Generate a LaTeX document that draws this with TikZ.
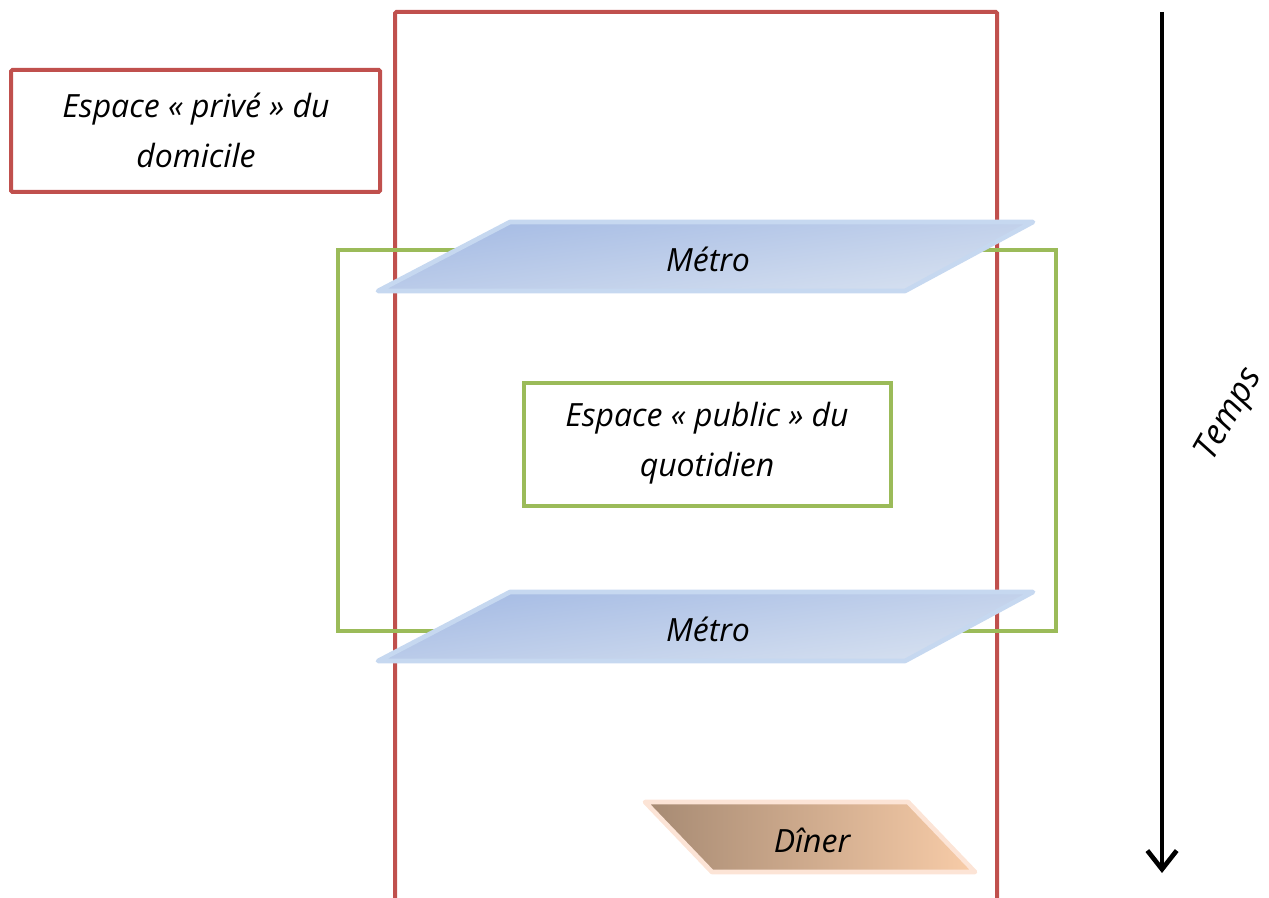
\documentclass[tikz,border=0pt]{standalone}
\usepackage{fontspec}
\setmainfont{Open Sans}
\usetikzlibrary{arrows.meta}
\definecolor{redb}{HTML}{C0504D}
\definecolor{greenb}{HTML}{9BBB59}
\definecolor{metroA}{HTML}{A5BBE4}
\definecolor{metroB}{HTML}{D7E1F0}
\definecolor{metroE}{HTML}{C6D8F0}
\definecolor{dinA}{HTML}{A68A73}
\definecolor{dinB}{HTML}{F8CCA8}
\definecolor{dinE}{HTML}{FCE4D6}
\tikzset{
  redbox/.style={draw=redb, line width=3pt, rounded corners=1pt},
  greenbox/.style={draw=greenb, line width=3pt},
  lbl/.style={font=\itshape\fontsize{24}{37.5}\selectfont, align=center, text=black, inner sep=0pt},
  metroshape/.style={draw=metroE, line width=3.5pt, line join=round, shading=axis, top color=metroA, bottom color=metroB, shading angle=8},
  dinshape/.style={draw=dinE, line width=3.5pt, line join=round, shading=axis, left color=dinA, right color=dinB},
}
\begin{document}
\begin{tikzpicture}[x=0.75pt,y=-0.75pt]
\useasboundingbox (0,0) rectangle (1269,898);
% private space frame
\draw[redbox] (395,905) -- (395,12) -- (997,12) -- (997,905);
\node[redbox, minimum width=369*0.75pt, minimum height=122*0.75pt, anchor=north west] (privlbl) at (9,68) {};
\node[lbl] (privtxt) at (196,130) {Espace « privé » du\\domicile};
% public space frame
\draw[greenbox] (338,250) rectangle (1056,631);
\node[greenbox, minimum width=367*0.75pt, minimum height=123*0.75pt, anchor=north west] (publbl) at (522,381) {};
\node[lbl] (pubtxt) at (707,443) {Espace « public » du\\quotidien};
% metro 1
\path[metroshape] (510,222) -- (1033,222) -- (905,291) -- (378,291) -- cycle;
\node[lbl] (metro1) at (708,259) {Métro};
% metro 2
\path[metroshape] (510,592) -- (1033,592) -- (905,661) -- (378,661) -- cycle;
\node[lbl] (metro2) at (708,629) {Métro};
% diner
\path[dinshape] (645,802) -- (908,802) -- (975,872) -- (712,872) -- cycle;
\node[lbl] (diner) at (812,840) {Dîner};
% time arrow
\coordinate (tstart) at (1162,12);
\coordinate (tend) at (1162,873);
\draw[line width=3.5pt, -{Straight Barb[length=14pt, width=22pt, line width=3.5pt]}] (tstart) -- (tend);
\node[lbl, font=\itshape\fontsize{26}{37.5}\selectfont, rotate=60] (temps) at (1230,415) {Temps};
\end{tikzpicture}
\end{document}
